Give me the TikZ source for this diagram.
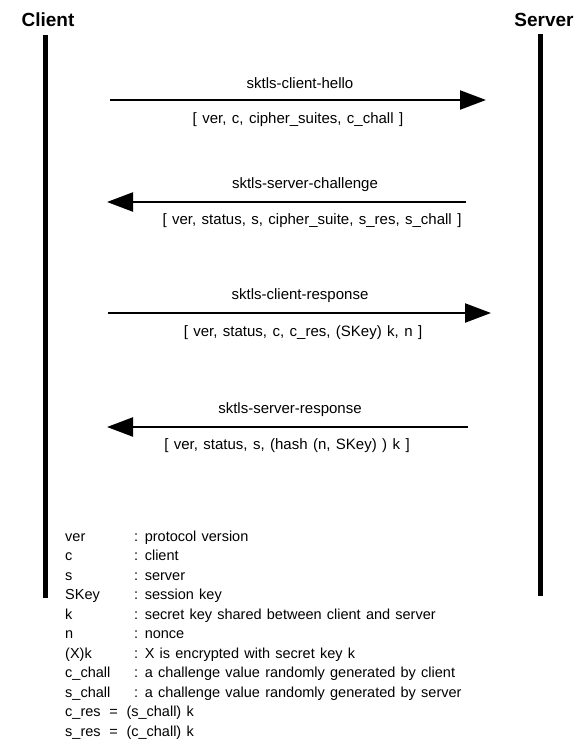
\documentclass[tikz,border=0pt]{standalone}
\usepackage{fontspec}
\setmainfont{Liberation Sans}[WordSpace=1.3]
\usetikzlibrary{arrows.meta}
\begin{document}
\begin{tikzpicture}[x=1pt,y=-1pt,
  lifeline/.style={line width=5pt},
  msg/.style={line width=2.3pt,-{Triangle[length=26pt,width=19pt]}},
  party/.style={font=\fontsize{19}{22}\selectfont\bfseries, inner sep=0pt},
  lbl/.style={font=\fontsize{15}{18}\selectfont, inner sep=0pt},
  keyterm/.style={font=\fontsize{14.5}{17}\selectfont, anchor=base west, inner sep=0pt}]
\useasboundingbox (0,0) rectangle (579,750);

% parties
\node[party] (client) at (48,20) {Client};
\node[party] (server) at (544,20) {Server};

% lifelines
\coordinate (ctop) at (45,35);
\coordinate (cbot) at (45,598);
\coordinate (stop) at (540,34);
\coordinate (sbot) at (540,596);
\draw[lifeline] (ctop) -- (cbot);
\draw[lifeline] (stop) -- (sbot);

% message 1
\coordinate (m1a) at (110,100);
\coordinate (m1b) at (486,100);
\draw[msg] (m1a) -- (m1b);
\node[lbl] (m1l) at (300,83) {sktls-client-hello};
\node[lbl] (m1p) at (298,120) {[ ver, c, cipher\_suites, c\_chall ]};

% message 2
\coordinate (m2a) at (466,202);
\coordinate (m2b) at (107,202);
\draw[msg] (m2a) -- (m2b);
\node[lbl] (m2l) at (305,185) {sktls-server-challenge};
\node[lbl] (m2p) at (312,221) {[ ver, status, s, cipher\_suite, s\_res, s\_chall ]};

% message 3
\coordinate (m3a) at (108,313);
\coordinate (m3b) at (491,313);
\draw[msg] (m3a) -- (m3b);
\node[lbl] (m3l) at (300,296) {sktls-client-response};
\node[lbl] (m3p) at (303,333) {[ ver, status, c, c\_res, (SKey) k, n ]};

% message 4
\coordinate (m4a) at (468,427);
\coordinate (m4b) at (107,427);
\draw[msg] (m4a) -- (m4b);
\node[lbl] (m4l) at (290,410) {sktls-server-response};
\node[lbl] (m4p) at (287,446) {[ ver, status, s, (hash (n, SKey) ) k ]};

% legend
\foreach \t/\d [count=\i] in {
  ver/{: protocol version},
  c/{: client},
  s/{: server},
  SKey/{: session key},
  k/{: secret key shared between client and server},
  n/{: nonce},
  (X)k/{: X is encrypted with secret key k},
  c\_chall/{: a challenge value randomly generated by client},
  s\_chall/{: a challenge value randomly generated by server}}
{
  \node[keyterm] (t\i) at (65,{541+(\i-1)*19.5}) {\t};
  \node[keyterm] (d\i) at (134,{541+(\i-1)*19.5}) {\d};
}
\node[keyterm] (t10) at (65,{541+9*19.5}) {c\_res\hspace{0.6em}=\hspace{0.6em}(s\_chall) k};
\node[keyterm] (t11) at (65,{541+10*19.5}) {s\_res\hspace{0.6em}=\hspace{0.6em}(c\_chall) k};
\end{tikzpicture}
\end{document}
